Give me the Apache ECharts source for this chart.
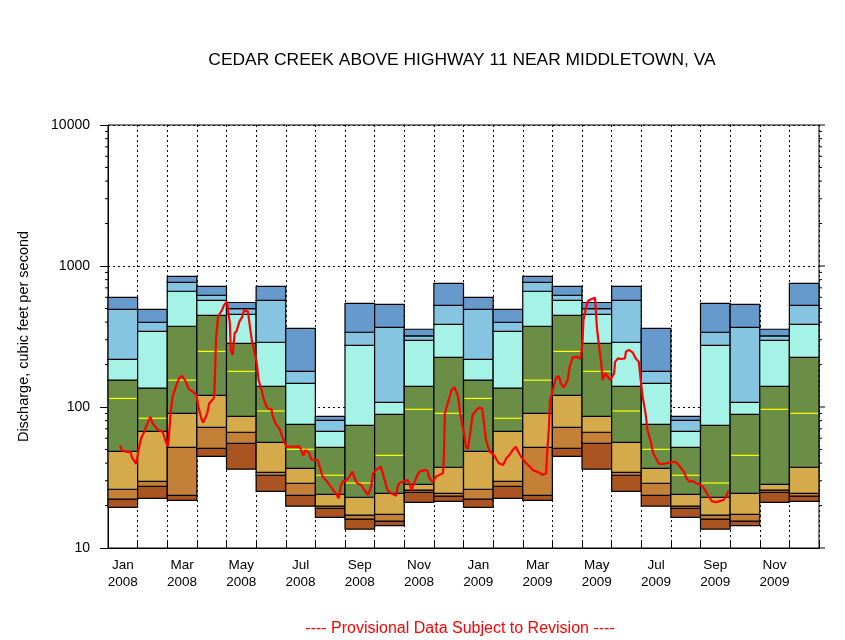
<!DOCTYPE html>
<html><head><meta charset="utf-8">
<script src="https://cdn.jsdelivr.net/npm/echarts@6/dist/echarts.min.js"></script>
<style>html,body{margin:0;padding:0;background:#fff}#c{width:845px;height:640px}</style>
</head><body><div id="c"></div>
<script>
// ---- data ----
const monthNames = ['Jan','Feb','Mar','Apr','May','Jun','Jul','Aug','Sep','Oct','Nov','Dec'];
const years = [2008, 2009];
// monthly percentile statistics (cfs), Jan..Dec
const statMin = [19.4, 22.5, 21.8, 44.7, 36.2, 25.2, 19.8, 16.5, 13.6, 14.4, 21.1, 21.4];
const statP05 = [22.2, 27.4, 23.6, 50.9, 55.3, 32.8, 23.6, 19.1, 16.0, 15.5, 24.8, 23.3];
const statP10 = [26.1, 29.7, 51.8, 71.8, 66.2, 34.4, 28.8, 19.8, 17.1, 17.3, 25.7, 24.4];
const statP25 = [48.5, 67.2, 90.2, 121, 85.9, 56.2, 36.7, 24.0, 22.9, 24.4, 28.3, 37.4];
const statP50 = [115, 83.2, 155, 248, 179, 93.7, 50.1, 32.8, 28.9, 45.4, 96.3, 90.2];
const statP75 = [155, 136, 374, 447, 283, 140, 75.4, 51.8, 74.1, 88.7, 140, 225];
const statP90 = [218, 344, 662, 571, 454, 288, 147, 67.2, 274, 108, 297, 386];
const statP95 = [493, 399, 766, 620, 498, 571, 179, 80.5, 339, 367, 319, 526];
const statMax = [600, 493, 845, 718, 551, 718, 361, 85.9, 544, 535, 356, 754];
// daily discharge (cfs)
const flowDates = ['2008-01-13','2008-01-15','2008-01-19','2008-01-24','2008-01-26','2008-01-30','2008-02-01','2008-02-02','2008-02-04','2008-02-07','2008-02-09','2008-02-11','2008-02-13','2008-02-15','2008-02-19','2008-02-22','2008-02-25','2008-02-27','2008-03-01','2008-03-02','2008-03-04','2008-03-06','2008-03-10','2008-03-13','2008-03-16','2008-03-20','2008-03-23','2008-03-27','2008-03-31','2008-04-02','2008-04-05','2008-04-07','2008-04-09','2008-04-11','2008-04-13','2008-04-17','2008-04-18','2008-04-19','2008-04-20','2008-04-22','2008-04-24','2008-04-26','2008-04-28','2008-05-01','2008-05-02','2008-05-04','2008-05-05','2008-05-07','2008-05-09','2008-05-11','2008-05-14','2008-05-17','2008-05-19','2008-05-21','2008-05-23','2008-05-25','2008-05-27','2008-05-30','2008-06-01','2008-06-03','2008-06-06','2008-06-08','2008-06-11','2008-06-13','2008-06-16','2008-06-17','2008-06-20','2008-06-24','2008-06-27','2008-07-01','2008-07-03','2008-07-06','2008-07-10','2008-07-12','2008-07-15','2008-07-17','2008-07-19','2008-07-21','2008-07-23','2008-07-25','2008-07-27','2008-07-31','2008-08-03','2008-08-05','2008-08-08','2008-08-13','2008-08-19','2008-08-22','2008-08-25','2008-08-27','2008-08-29','2008-09-02','2008-09-05','2008-09-08','2008-09-09','2008-09-11','2008-09-13','2008-09-17','2008-09-20','2008-09-24','2008-09-25','2008-09-27','2008-09-29','2008-10-02','2008-10-07','2008-10-09','2008-10-11','2008-10-14','2008-10-18','2008-10-23','2008-10-25','2008-10-27','2008-11-01','2008-11-04','2008-11-06','2008-11-08','2008-11-10','2008-11-13','2008-11-16','2008-11-21','2008-11-24','2008-11-26','2008-11-29','2008-12-03','2008-12-06','2008-12-10','2008-12-11','2008-12-12','2008-12-13','2008-12-15','2008-12-17','2008-12-19','2008-12-22','2008-12-24','2008-12-26','2008-12-28','2009-01-01','2009-01-03','2009-01-05','2009-01-07','2009-01-10','2009-01-14','2009-01-17','2009-01-20','2009-01-22','2009-01-24','2009-01-28','2009-02-01','2009-02-03','2009-02-06','2009-02-10','2009-02-13','2009-02-16','2009-02-19','2009-02-22','2009-02-25','2009-03-01','2009-03-04','2009-03-08','2009-03-11','2009-03-15','2009-03-18','2009-03-21','2009-03-25','2009-03-26','2009-03-28','2009-03-29','2009-04-01','2009-04-04','2009-04-07','2009-04-09','2009-04-12','2009-04-14','2009-04-16','2009-04-18','2009-04-21','2009-04-25','2009-04-29','2009-05-01','2009-05-02','2009-05-05','2009-05-07','2009-05-10','2009-05-14','2009-05-15','2009-05-16','2009-05-18','2009-05-21','2009-05-22','2009-05-25','2009-05-27','2009-05-30','2009-06-01','2009-06-03','2009-06-04','2009-06-07','2009-06-10','2009-06-14','2009-06-15','2009-06-18','2009-06-20','2009-06-22','2009-06-25','2009-06-28','2009-06-30','2009-07-02','2009-07-05','2009-07-07','2009-07-10','2009-07-13','2009-07-17','2009-07-19','2009-07-23','2009-07-27','2009-07-30','2009-08-04','2009-08-07','2009-08-10','2009-08-14','2009-08-17','2009-08-20','2009-08-23','2009-08-27','2009-08-30','2009-09-03','2009-09-06','2009-09-09','2009-09-12','2009-09-16','2009-09-20','2009-09-24','2009-09-27','2009-09-29'];
const flowValues = [53.2,49.5,48.2,47.8,43.3,39.5,40.3,52.3,60,66.8,73.3,78.7,85.3,76.6,70.6,67.9,66.8,60,52.3,58.3,90.2,118,143,160,166,151,134,128.5,121.6,100.5,83.2,77.4,75.7,90.2,106,114,118,183,315,436,462,487,528,559,559,392,254,234,333,345,403,436,487,501,474,371,299,240,209,155,132,115,100.5,96.8,96.8,87.7,76.6,70.6,61.5,52.3,50.9,52.3,52.3,53.7,52.3,50.9,45.2,49.5,50.9,47,42.6,42.1,42.1,37.8,32.1,29.5,25.8,24.4,22.5,27.2,29.5,30.3,32.1,34.8,35.2,30.3,28.8,28,25.8,23.8,23.4,27.2,33.9,35.7,37.8,36.7,30.3,25.8,24.4,23.5,28,29,29.9,30.3,29.5,25.8,25.5,32.1,34.8,35.7,35.3,31.2,29.5,32.1,33,33.9,44.4,90.2,92.7,106,118,132,138,139,118,90.2,65.1,52.3,50.4,61.5,87.7,95.2,98.9,97.8,76.6,58.3,48.2,45.7,43.3,39.9,38.8,43.3,45.7,49.5,52.3,47,42.1,39.9,37.8,35.7,34.8,34.2,33,33.9,47,72.4,112,132,160,166,147,138,136,155,193,225,227,221,283,414,514,568,581,596,487,371,283,193,155,173,175,155,151,173,209,221,219,221,247,254,261,243,221,209,155,118,90.2,68.7,58.3,47,42.1,39.5,39.5,39.9,40.3,40.9,39.9,37.8,34.8,31.2,29.5,29.9,28.8,28.3,27.2,25.1,23.1,21.5,21.1,21.5,21.9,23.8,25.5];
const yTickValues = [10, 100, 1000, 10000];
const minorTickValues = [20,30,40,50,60,70,80,90,200,300,400,500,600,700,800,900,2000,3000,4000,5000,6000,7000,8000,9000];

// ---- build ----
const bandColors = ['#A95421','#C48036','#D5AA4B','#6A8E45','#A4F3E6','#86C5E1','#6699CC'];
const xLabels = [];
years.forEach(y => monthNames.forEach((m, i) => xLabels.push(i % 2 === 0 ? m + '\n' + y : '')));
const barData = [];
for (let k = 0; k < 24; k++) {
  const m = k % 12;
  barData.push([k, statMin[m], statP05[m], statP10[m], statP25[m], statP75[m], statP90[m], statP95[m], statMax[m], statP50[m]]);
}
function toUnits(s) {
  const p = s.split('-').map(Number);
  const dim = new Date(p[0], p[1], 0).getDate();
  return (p[0] - years[0]) * 12 + (p[1] - 1) + (p[2] - 0.5) / dim;
}
const lineData = flowDates.map((d, i) => [toUnits(d), flowValues[i]]);
const font = "'Liberation Sans', Arial, sans-serif";

const chart = echarts.init(document.getElementById('c'), null, {renderer: 'canvas'});
chart.setOption({
  animation: false,
  backgroundColor: '#fff',
  textStyle: {fontFamily: font},
  grid: {left: 108, right: 26, top: 125, bottom: 92, show: true, borderColor: '#000', borderWidth: 1, backgroundColor: 'transparent'},
  graphic: [
    {type: 'text', x: 462, y: 60, style: {text: 'CEDAR CREEK ABOVE HIGHWAY 11 NEAR MIDDLETOWN, VA', align: 'center', verticalAlign: 'middle', fontSize: 17.4, fontFamily: font, fill: '#000'}},
    {type: 'text', x: 460, y: 629, style: {text: '---- Provisional Data Subject to Revision ----', align: 'center', verticalAlign: 'middle', fontSize: 16, fontFamily: font, fill: '#ff0000'}}
  ],
  xAxis: [
    {type: 'category', data: xLabels, boundaryGap: true,
     axisLine: {show: true, lineStyle: {color: '#000', width: 1}},
     axisTick: {show: true, inside: true, length: 8, interval: 0, lineStyle: {color: '#000'}},
     axisLabel: {interval: 0, color: '#000', fontSize: 13.5, lineHeight: 17, margin: 9, fontFamily: font},
     splitLine: {show: true, interval: 0, lineStyle: {color: '#000', type: [2, 3], width: 1}}},
    {type: 'value', min: 0, max: 24, show: false}
  ],
  yAxis: [{
    type: 'log', logBase: 10, min: 10, max: 10000,
    name: 'Discharge, cubic feet per second', nameLocation: 'middle', nameGap: 77,
    nameTextStyle: {fontSize: 14.5, color: '#000', fontFamily: font},
    axisLine: {show: true, lineStyle: {color: '#000', width: 1}},
    axisTick: {show: true, inside: false, length: 8, lineStyle: {color: '#000'}},
    axisLabel: {color: '#000', fontSize: 14, margin: 18, fontFamily: font, formatter: v => String(v)},
    splitLine: {show: true, lineStyle: {color: '#000', type: [2, 3], width: 1}}
  }],
  series: [
    {
      type: 'custom', xAxisIndex: 0, yAxisIndex: 0, z: 2,
      data: barData,
      encode: {x: 0, y: [1, 2, 3, 4, 5, 6, 7, 8, 9]},
      renderItem: function (params, api) {
        const i = api.value(0);
        const bw = api.size([1, 100])[0];
        const cx = api.coord([i, api.value(1)])[0];
        const x0 = cx - bw / 2;
        const children = [];
        for (let k = 0; k < 7; k++) {
          const yb = api.coord([i, api.value(k + 1)])[1];
          const yt = api.coord([i, api.value(k + 2)])[1];
          children.push({type: 'rect', shape: {x: x0, y: yt, width: bw, height: yb - yt},
            style: {fill: bandColors[k], stroke: '#000', lineWidth: 1.2}});
        }
        const ym = api.coord([i, api.value(9)])[1];
        children.push({type: 'line', shape: {x1: x0 + 1, y1: ym, x2: x0 + bw - 1, y2: ym},
          style: {stroke: '#ffff00', lineWidth: 1.2}});
        return {type: 'group', children: children};
      }
    },
    {
      type: 'custom', xAxisIndex: 0, yAxisIndex: 0, z: 3, silent: true,
      data: minorTickValues.map(v => [0, v, 3]).concat(yTickValues.map(v => [0, v, 6])),
      encode: {x: 0, y: 1},
      renderItem: function (params, api) {
        const cs = params.coordSys;
        const y = api.coord([0, api.value(1)])[1];
        const len = api.value(2);
        const children = [];
        const xr = cs.x + cs.width;
        children.push({type: 'line', shape: {x1: xr, y1: y, x2: xr + len, y2: y}, style: {stroke: '#000', lineWidth: 1}});
        if (len < 5) children.push({type: 'line', shape: {x1: cs.x - len, y1: y, x2: cs.x, y2: y}, style: {stroke: '#000', lineWidth: 1}});
        return {type: 'group', children: children};
      }
    },
    {
      type: 'line', xAxisIndex: 1, yAxisIndex: 0, z: 5,
      data: lineData, showSymbol: false, symbol: 'none',
      lineStyle: {color: '#ff0000', width: 2.2}
    }
  ]
});
</script></body></html>
